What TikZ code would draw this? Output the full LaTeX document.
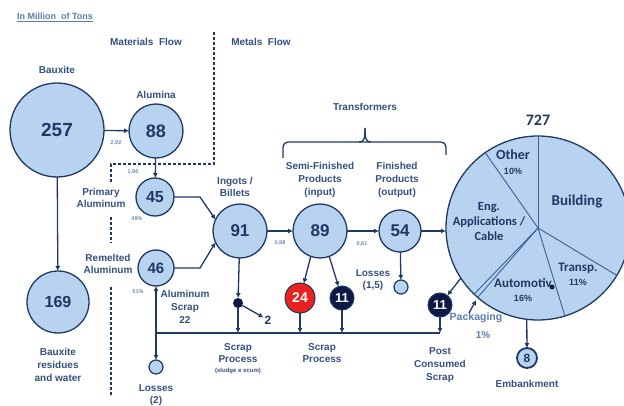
\documentclass[tikz,border=0pt]{standalone}
\usepackage{fontspec}
\setmainfont{Liberation Sans}
\newfontfamily\carl{Carlito}
\usetikzlibrary{arrows.meta}
\definecolor{cNavy}{HTML}{1F3864}
\definecolor{cFill}{HTML}{B7D3EF}
\definecolor{cLab}{HTML}{34507F}
\definecolor{cSmall}{HTML}{6A88B8}
\definecolor{cLight}{HTML}{5A7DB0}
\definecolor{cRed}{HTML}{E8231F}
\definecolor{cDark}{HTML}{0E1A45}
\definecolor{cPieLine}{HTML}{3D5F92}
\newcommand\fsz[1]{\fontsize{#1}{#1}\selectfont}
\newcommand\lf{\fontsize{10}{12.8}\selectfont\bfseries}
\tikzset{
  bub/.style={circle, draw=cNavy, fill=cFill, line width=1.3pt, inner sep=0pt, outer sep=0pt, text=cNavy},
  lab/.style={text=cLab, font=\lf, align=center, inner sep=0pt},
  sml/.style={text=cSmall, font=\fsz{5.5}\bfseries, inner sep=0pt},
  conn/.style={draw=cNavy, line width=1.3pt},
  arr/.style={conn, -{Latex[length=5pt,width=5pt]}},
  darr/.style={conn, {Latex[length=5pt,width=5pt]}-{Latex[length=5pt,width=5pt]}},
  dashline/.style={draw=cNavy, line width=1.2pt, dash pattern=on 3pt off 2pt},
  darkbub/.style={circle, draw=cNavy, fill=cDark, line width=1pt, inner sep=0pt, outer sep=0pt, text=white, font=\fsz{13}\bfseries},
  pielab/.style={text=cNavy, font=\carl\bfseries, align=center, inner sep=0pt},
}
\begin{document}
\begin{tikzpicture}[x=1pt,y=-1pt]
\useasboundingbox (0,0) rectangle (624,406);

% title and headings
\node[text=cLight, font=\fsz{9}\bfseries, inner sep=0pt] (title) at (55,16) {In Million\ \ of Tons};
\draw[cLight, line width=0.8pt] (title.south west) ++(0,-1.5pt) -- ([yshift=-1.5pt]title.south east);
\node[lab] (matf) at (146,42) {Materials\ \ Flow};
\node[lab] (metf) at (261,42) {Metals\ \ Flow};

% dashed separator
\draw[dashline] (214,32) -- (214,164) -- (111,164) -- (111,182);
\draw[dashline] (111,217) -- (111,243);
\draw[dashline] (111,287) -- (111,395);

% circles
\node[bub, minimum size=94pt, font=\fsz{19}\bfseries] (baux) at (57,130) {257};
\node[lab] (bauxl) at (57,70) {Bauxite};
\node[bub, minimum size=54pt, font=\fsz{18}\bfseries] (alu) at (156,131) {88};
\node[lab] (alul) at (156,95) {Alumina};
\node[bub, minimum size=62pt, font=\fsz{16}\bfseries] (res) at (58,302) {169};
\node[lab] (resl) at (58,365) {Bauxite\\residues\\and water};
\node[bub, minimum size=38pt, font=\fsz{16}\bfseries] (pa) at (155,197) {45};
\node[lab] (pal) at (101,198) {Primary\\Aluminum};
\node[bub, minimum size=36pt, font=\fsz{15}\bfseries] (ra) at (156,268) {46};
\node[lab] (ral) at (108,264) {Remelted\\Aluminum};
\node[bub, minimum size=54pt, font=\fsz{17}\bfseries] (ing) at (240,231) {91};
\node[lab] (ingl) at (235,187) {Ingots /\\Billets};
\node[bub, minimum size=54pt, font=\fsz{17}\bfseries] (semi) at (320,231) {89};
\node[lab] (semil) at (320,180) {Semi-Finished\\Products\\(input)};
\node[bub, minimum size=42pt, font=\fsz{17}\bfseries] (fin) at (400,231) {54};
\node[lab] (finl) at (397,180) {Finished\\Products\\(output)};

% transformers brace
\node[lab] (trans) at (365,107) {Transformers};
\draw[conn, rounded corners=5pt] (283,158) |- (365,142) -| (446,155);
\draw[conn] (359,142) .. controls (364,142) and (365,139) .. (365,128);
\draw[conn] (371,142) .. controls (366,142) and (365,139) .. (365,128);

% small nodes
\node[bub, minimum size=14pt, line width=1.2pt] (l1) at (156,367) {};
\node[lab] (l1l) at (156,395) {Losses\\(2)};
\node[bub, minimum size=14pt, line width=1.2pt] (l2) at (401,287) {};
\node[lab] (l2l) at (373,280) {Losses\\(1,5)};
\node[circle, fill=cDark, minimum size=10pt, inner sep=0pt, outer sep=0pt] (sd) at (238,303) {};
\node[text=cNavy, font=\fsz{12}\bfseries, inner sep=0pt] (n2) at (268,320) {2};
\node[circle, draw=cNavy, fill=cRed, line width=1pt, minimum size=30pt, inner sep=0pt, outer sep=0pt, text=white, font=\fsz{14}\bfseries] (r24) at (300,298) {24};
\node[darkbub, minimum size=24pt] (s11) at (342,298) {11};
\node[darkbub, minimum size=24pt] (p11) at (440,305) {11};
\node[lab] (alsc) at (185,307) {Aluminum\\Scrap\\22};
\node[lab] (sp1) at (238,353) {Scrap\\Process};
\node[text=cLab, font=\fsz{6}\bfseries, inner sep=0pt] (sludge) at (238,371) {(sludge e scum)};
\node[lab] (sp2) at (322,353) {Scrap\\Process};
\node[lab] (pcs) at (440,365) {Post\\Consumed\\Scrap};

% pie
\node[circle, draw=cNavy, fill=cFill, line width=1.3pt, minimum size=184pt, inner sep=0pt, outer sep=0pt] (pie) at (538,228) {};
\foreach \a in {90,125.6,-31.3,-73,-131,-134.5}
  \draw[cPieLine, line width=0.9pt] (pie.center) -- (pie.\a);
\node[pielab, font=\carl\bfseries\fsz{16}] (tot) at (538,120) {727};
\node[pielab, font=\carl\bfseries\fsz{14}] (oth) at (513,155) {Other};
\node[pielab, font=\fsz{9}\bfseries] (othp) at (513,171) {10\%};
\node[pielab, font=\carl\bfseries\fsz{15}] (bld) at (577,202) {Building};
\node[pielab, font=\carl\bfseries\fontsize{12.5}{15}\selectfont] (eng) at (489,221) {Eng.\\Applications /\\Cable};
\node[pielab, font=\carl\bfseries\fsz{13}] (trp) at (578,268) {Transp.};
\node[pielab, font=\fsz{9}\bfseries] (trpp) at (578,282) {11\%};
\node[pielab, font=\carl\bfseries\fsz{13}] (aut) at (523,283) {Automotiv};
\node[circle, fill=cDark, minimum size=5pt, inner sep=0pt] (autd) at (552,287) {};
\node[pielab, font=\fsz{9}\bfseries] (autp) at (523,298) {16\%};
\node[text=cLight, font=\fsz{10.5}\bfseries, inner sep=0pt] (pk) at (476,318) {Packaging};
\node[text=cLight, font=\fsz{10}\bfseries, inner sep=0pt] (pkp) at (483,335) {1\%};
\node[bub, minimum size=20pt, line width=1.8pt, font=\fsz{12}\bfseries] (emb) at (527,358) {8};
\node[lab] (embl) at (527,384) {Embankment};

% bus line
\coordinate (busL) at (156,333);
\coordinate (busR) at (440,333);
\draw[conn] (busL) -- (busR);

% connectors
\draw[arr] (baux) -- (alu);
\node[sml] (v292) at (116,143) {2,92};
\draw[arr] (alu) -- (pa);
\node[sml] (v196) at (133,172) {1,96};
\node[sml] (v49) at (137,219) {49\%};
\draw[arr] (baux) -- (res);
\draw[arr] (pa.east) -- (200,197) -- (ing.155);
\draw[arr] (ra.east) -- (200,268) -- (ing.205);
\node[sml] (v51) at (138,292) {51\%};
\draw[arr] (ing) -- (semi);
\node[sml] (v098) at (280,243) {0,98};
\draw[arr] (semi) -- (fin);
\node[sml] (v061) at (362,244) {0,61};
\draw[arr] (fin.east) -- (fin.east -| pie.west);
\draw[darr] (ra) -- (l1);
\draw[arr] (ing) -- (sd);
\draw[arr] (sd) -- (sd |- busR);
\draw[arr, shorten >=1pt] (sd) -- (n2);
\draw[arr] (semi.-110) -- (r24);
\draw[arr] (semi.-70) -- (s11);
\draw[arr] (r24) -- (r24 |- busR);
\draw[arr] (s11) -- (s11 |- busR);
\draw[arr] (fin) -- (l2);
\draw[arr] (pie.213) -- (p11);
\draw[arr] (p11) -- (busR);
\draw[arr, shorten >=3pt] ([xshift=-7pt]pk.north) -- (pie.-131);
\draw[arr] (pie.-97) -- (emb);
\end{tikzpicture}
\end{document}
